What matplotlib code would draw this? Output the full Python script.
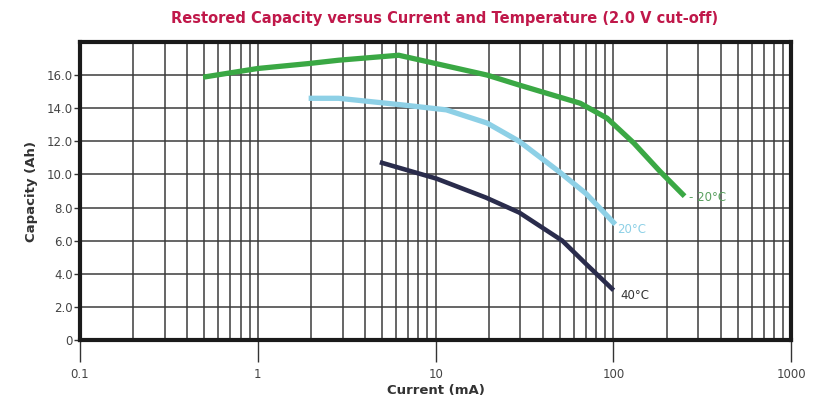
import matplotlib
matplotlib.use("Agg")
import matplotlib.pyplot as plt
from matplotlib.ticker import FixedLocator, LogLocator, NullFormatter

# ======================
# |       DATA         |
# ======================
# -20 C curve (green)
cold_current = [0.51, 1.0, 1.94, 2.85, 6.2, 10.0, 19.5, 29.5, 65, 92, 130, 182, 245]
cold_capacity = [15.9, 16.4, 16.7, 16.9, 17.2, 16.7, 16.0, 15.4, 14.3, 13.4, 11.9, 10.2, 8.8]

# 20 C curve (light blue)
room_current = [2.0, 2.85, 6.5, 11.5, 19.5, 29.5, 49, 70, 100]
room_capacity = [14.6, 14.6, 14.2, 13.9, 13.1, 12.0, 10.2, 8.85, 7.1]

# 40 C curve (navy)
hot_current = [5.0, 10.1, 19.2, 29.5, 51.5, 70, 98]
hot_capacity = [10.7, 9.75, 8.6, 7.7, 6.0, 4.6, 3.1]

curve_labels = ["- 20°C", "20°C", "40°C"]
y_ticks = [0, 2, 4, 6, 8, 10, 12, 14, 16]
y_tick_labels = ["0", "2.0", "4.0", "6.0", "8.0", "10.0", "12.0", "14.0", "16.0"]
x_ticks = [0.1, 1, 10, 100, 1000]
x_tick_labels = ["0.1", "1", "10", "100", "1000"]

# ======================
# |       PLOT         |
# ======================
plt.rcParams['font.family'] = ['DejaVu Sans']

fig = plt.figure(figsize=(8.15, 4.0), dpi=100)
ax = fig.add_axes([0.098, 0.15, 0.873, 0.745])

green = "#3aa844"
blue = "#8dd0e6"
navy = "#2a2c4c"

ax.plot(cold_current, cold_capacity, color=green, lw=3.8, solid_joinstyle="round", zorder=3)
ax.plot(room_current, room_capacity, color=blue, lw=3.8, solid_joinstyle="round", zorder=3)
ax.plot(hot_current, hot_capacity, color=navy, lw=3.3, solid_joinstyle="round", zorder=3)

ax.set_xscale("log")
ax.set_xlim(0.1, 1000)
ax.set_ylim(0, 18)

ax.xaxis.set_major_locator(FixedLocator(x_ticks))
ax.set_xticklabels(x_tick_labels)
ax.xaxis.set_minor_locator(LogLocator(base=10, subs=range(2, 10)))
ax.xaxis.set_minor_formatter(NullFormatter())
ax.set_yticks(y_ticks)
ax.set_yticklabels(y_tick_labels)

ax.grid(True, which="both", axis="x", color="#3c3c3c", lw=1.1)
ax.grid(True, which="major", axis="y", color="#3c3c3c", lw=1.1)
ax.set_axisbelow(True)

for side in ["left", "bottom", "top", "right"]:
    ax.spines[side].set_linewidth(3)
    ax.spines[side].set_color("#1a1a1a")

ax.tick_params(axis="x", which="major", length=16, width=1, color="#333333",
               labelsize=8.5, labelcolor="#444444", pad=4, direction="out")
ax.tick_params(axis="x", which="minor", length=0)
ax.tick_params(axis="y", length=4, width=1, color="#333333",
               labelsize=8.5, labelcolor="#444444", pad=1)

ax.set_xlabel("Current (mA)", fontsize=9.5, fontweight="bold", color="#333333", labelpad=2)
ax.set_ylabel("Capacity (Ah)", fontsize=9.5, fontweight="bold", color="#333333", labelpad=6)

# curve labels
ax.text(cold_current[-1] * 1.08, cold_capacity[-1] - 0.2, curve_labels[0],
        color="#5aa060", fontsize=8.5, va="center", ha="left")
ax.text(room_current[-1] * 1.05, room_capacity[-1] - 0.4, curve_labels[1],
        color=blue, fontsize=8.5, va="center", ha="left")
ax.text(hot_current[-1] * 1.12, hot_capacity[-1] - 0.4, curve_labels[2],
        color="#333333", fontsize=8.5, va="center", ha="left")

fig.text(0.545, 0.955, "Restored Capacity versus Current and Temperature (2.0 V cut-off)",
         color="#c0184a", fontsize=10.5, fontweight="bold", ha="center", va="center")

fig.savefig("out.png", dpi=100)
